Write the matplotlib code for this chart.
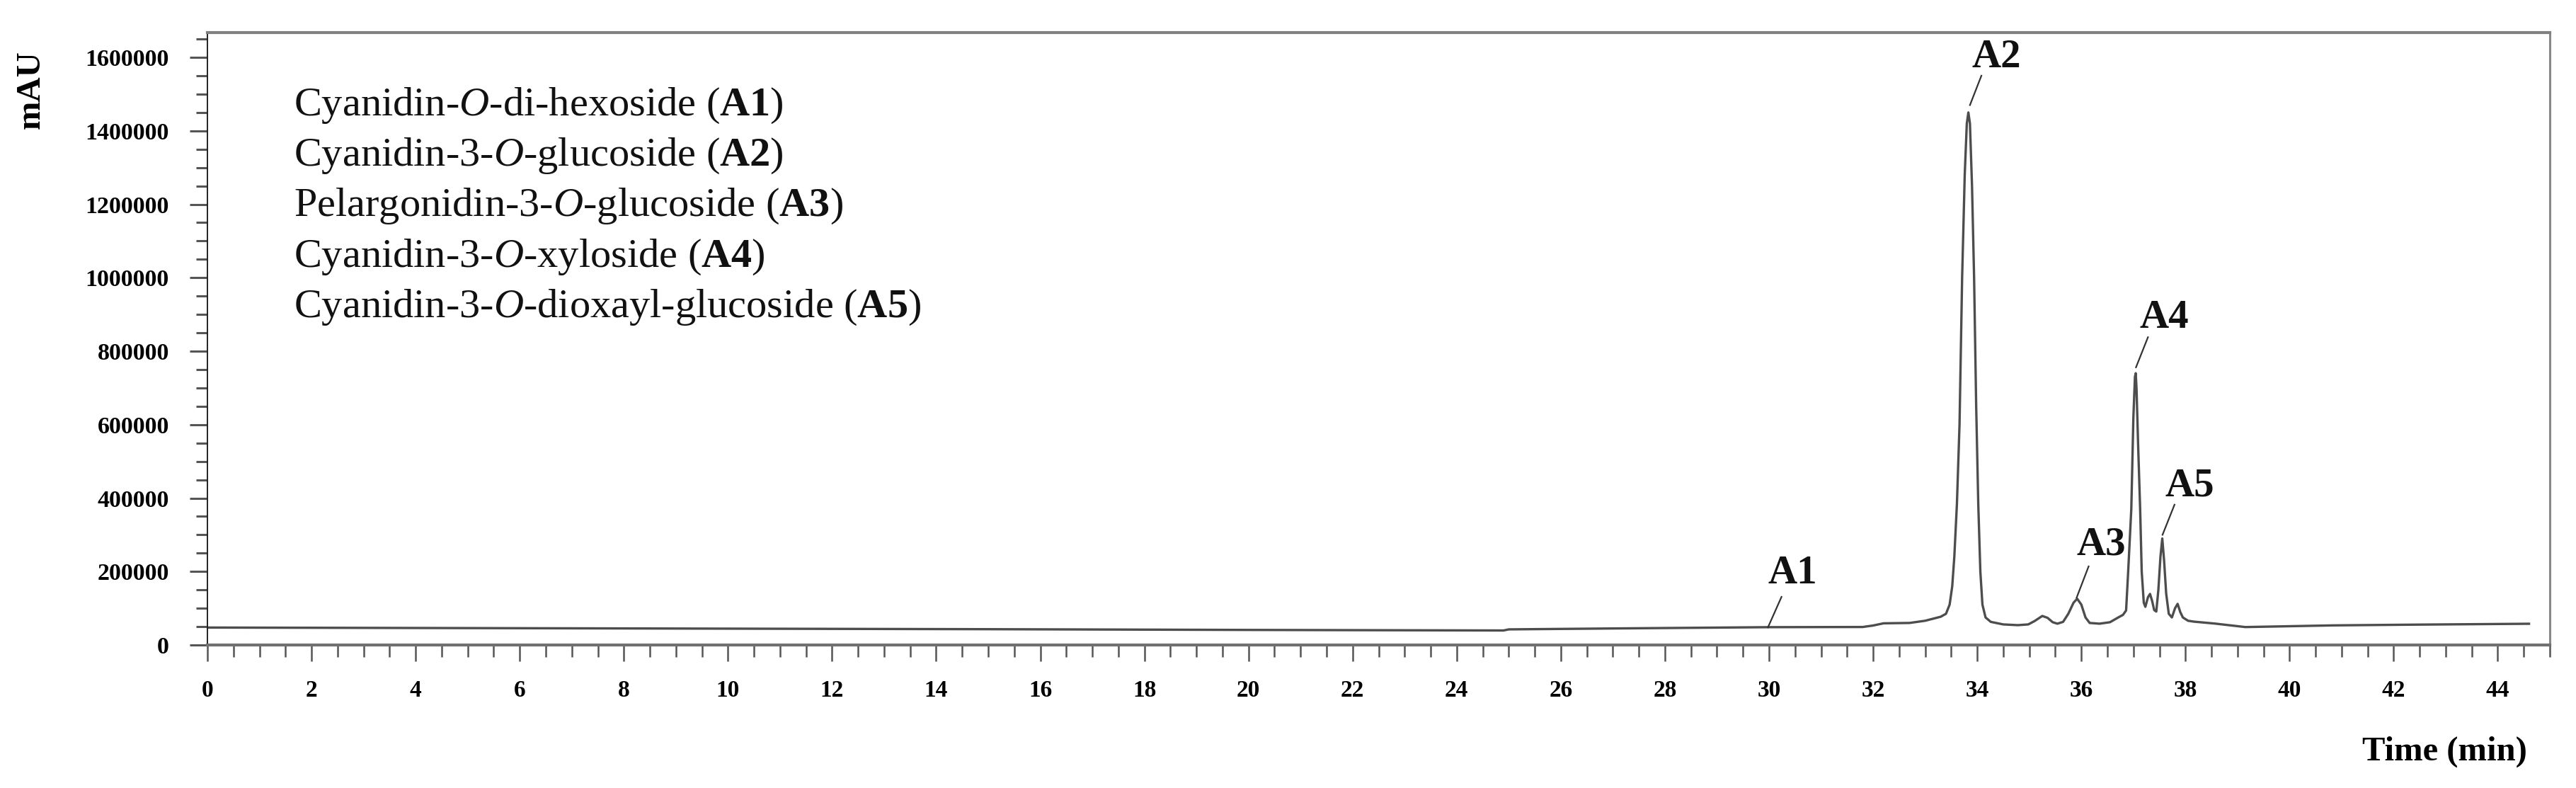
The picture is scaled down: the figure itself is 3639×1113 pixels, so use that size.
import matplotlib
matplotlib.use("Agg")
import matplotlib.pyplot as plt
from matplotlib.ticker import MultipleLocator

plt.rcParams['font.family'] = ['Liberation Serif', 'DejaVu Serif']
plt.rcParams['mathtext.fontset'] = 'custom'
plt.rcParams['mathtext.rm'] = 'Liberation Serif'
plt.rcParams['mathtext.it'] = 'Liberation Serif:italic'
plt.rcParams['mathtext.bf'] = 'Liberation Serif:bold'

# ---- chromatogram trace (time in min, absorbance in mAU) ----
time_min = [0, 5, 10, 15, 20, 24.9, 25.0, 27, 30, 31.8, 32.0, 32.2, 32.7, 33.0, 33.3,
            33.40, 33.47, 33.52, 33.56, 33.61, 33.66, 33.71, 33.76, 33.80, 33.83,
            33.86, 33.90, 33.94, 33.98, 34.02, 34.06, 34.10, 34.16, 34.26, 34.5,
            34.78, 34.98, 35.1, 35.25, 35.35, 35.45, 35.54, 35.65, 35.75, 35.85,
            35.92, 36.00, 36.08, 36.16, 36.35, 36.55, 36.71, 36.80, 36.86, 36.90,
            36.96, 37.00, 37.03, 37.045, 37.06, 37.09, 37.13, 37.16, 37.20, 37.23,
            37.28, 37.32, 37.36, 37.40, 37.44, 37.48, 37.52, 37.555, 37.59, 37.63,
            37.68, 37.74, 37.80, 37.85, 37.90, 37.95, 38.05, 38.16, 38.56, 39.15,
            40.85, 42.5, 44.6]
mau = [47500, 46000, 44500, 43000, 41000, 39500, 42500, 45000, 48500, 49000, 53000, 59000, 60000, 66000, 77000,
       85000, 110000, 160000, 240000, 384000, 600000, 1000000, 1280000, 1420000, 1450000,
       1420000, 1250000, 1000000, 650000, 384000, 200000, 110000, 75000, 63000, 56000,
       54000, 56000, 65000, 79000, 74000, 62000, 58000, 63000, 85000, 115000,
       126000, 110000, 75000, 60000, 58000, 62000, 75000, 82000, 94000, 200000,
       370000, 620000, 730000, 740000, 700000, 550000, 370000, 200000, 115000, 104000,
       130000, 139000, 120000, 95000, 91000, 150000, 240000, 290000, 230000, 140000,
       85000, 75000, 100000, 112000, 90000, 75000, 66000, 63600, 58400, 48800,
       53400, 55500, 57800]

# ---- peak labels ----
peak_names = ['A1', 'A2', 'A3', 'A4', 'A5']
label_t = [30.45, 34.37, 36.38, 37.59, 38.08]
label_v = [195000, 1600000, 272000, 890000, 433000]
leader_t0 = [29.98, 33.86, 35.91, 37.05, 37.56]
leader_v0 = [48000, 1470000, 129000, 756000, 300000]
leader_t1 = [30.24, 34.08, 36.14, 37.28, 37.79]
leader_v1 = [131000, 1550000, 214000, 838000, 382000]

compounds = [r'Cyanidin-$\mathit{O}$-di-hexoside ($\mathbf{A1}$)',
             r'Cyanidin-3-$\mathit{O}$-glucoside ($\mathbf{A2}$)',
             r'Pelargonidin-3-$\mathit{O}$-glucoside ($\mathbf{A3}$)',
             r'Cyanidin-3-$\mathit{O}$-xyloside ($\mathbf{A4}$)',
             r'Cyanidin-3-$\mathit{O}$-dioxayl-glucoside ($\mathbf{A5}$)']

x_major = list(range(0, 46, 2))
y_major = list(range(0, 1600001, 200000))

W, H = 3639, 1113
fig = plt.figure(figsize=(W / 100, H / 100), dpi=100)
l, r, b, t = 293 / W, 3602 / W, 1 - 911 / H, 1 - 46 / H
ax = fig.add_axes([l, b, r - l, t - b])

ax.plot(time_min, mau, color='#4d4d4d', lw=2.4, solid_joinstyle='round')

for i, name in enumerate(peak_names):
    ax.plot([leader_t0[i], leader_t1[i]], [leader_v0[i], leader_v1[i]],
            color='#333333', lw=1.6)
    ax.text(label_t[i], label_v[i], name, fontsize=41, fontweight='bold',
            ha='center', va='center', color='#111111')

ax.set_xlim(0, 45)
ax.set_ylim(0, 1667500)
ax.set_xticks(x_major)
ax.set_yticks(y_major)
ax.set_yticklabels([str(v) for v in y_major])
ax.xaxis.set_minor_locator(MultipleLocator(0.5))
ax.yaxis.set_minor_locator(MultipleLocator(50000))

ax.tick_params(axis='x', which='major', direction='out', length=16.5, width=1.8,
               color='#555555', pad=19, labelsize=24)
ax.tick_params(axis='x', which='minor', direction='out', length=12, width=1.8,
               color='#555555')
ax.tick_params(axis='y', which='major', direction='out', length=18, width=2.2,
               color='#555555', pad=21, labelsize=24.5)
ax.tick_params(axis='y', which='minor', direction='out', length=11.5, width=2.2,
               color='#555555')
for lab in ax.get_xticklabels() + ax.get_yticklabels():
    lab.set_fontweight('bold')

ax.spines['left'].set_color('#222222')
ax.spines['left'].set_linewidth(1.4)
ax.spines['bottom'].set_color('#707070')
ax.spines['bottom'].set_linewidth(3)
ax.spines['top'].set_color('#808080')
ax.spines['top'].set_linewidth(3)
ax.spines['right'].set_color('#888888')
ax.spines['right'].set_linewidth(2.2)

# compound list
baselines_px = [163, 234, 305, 377, 448]
for txt, ypx in zip(compounds, baselines_px):
    fig.text(415 / W, 1 - ypx / H, txt, fontsize=42, ha='left', va='baseline',
             color='#111111')

fig.text(44 / W, 1 - 127 / H, 'mAU', rotation=90, fontsize=35, fontweight='bold',
         ha='center', va='center')
fig.text(3453 / W, 1 - 1062 / H, 'Time (min)', fontsize=35, fontweight='bold',
         ha='center', va='center')

fig.savefig('out.png', dpi=100, facecolor='white')
